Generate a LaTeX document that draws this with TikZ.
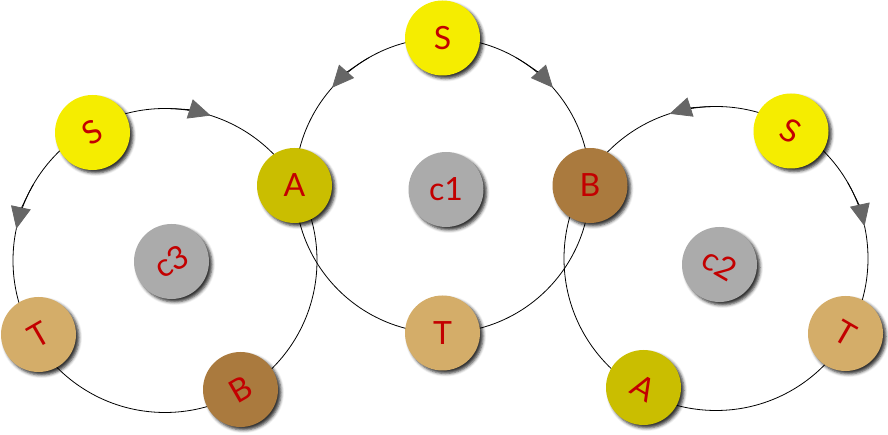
\documentclass[tikz,border=0pt]{standalone}
\usepackage{fontspec}
\setmainfont{Lato}
\usetikzlibrary{shadows.blur,arrows.meta}
\definecolor{sY}{RGB}{245,237,0}
\definecolor{aO}{RGB}{202,190,0}
\definecolor{bB}{RGB}{170,122,62}
\definecolor{tT}{RGB}{212,173,105}
\definecolor{cG}{RGB}{171,171,171}
\definecolor{txtR}{RGB}{195,0,0}
\definecolor{arrG}{RGB}{102,102,102}
\tikzset{
  ball/.style={circle, minimum size=75pt, inner sep=0pt, text=txtR,
    font=\fontsize{32}{32}\selectfont,
    blur shadow={shadow xshift=3pt, shadow yshift=-3pt, shadow blur radius=3pt, shadow opacity=80}},
  sball/.style={ball, fill=sY},
  aball/.style={ball, fill=aO},
  bball/.style={ball, fill=bB},
  tball/.style={ball, fill=tT},
  cball/.style={ball, fill=cG},
  ring/.style={draw=black, line width=0.8pt},
  flow/.style={draw=black, line width=0.8pt, -{Triangle[length=22pt,width=20pt,color=arrG,fill=arrG]}}
}
\begin{document}
\begin{tikzpicture}[x=1pt,y=1pt]
\useasboundingbox (0,0) rectangle (888,435);
% ring centres
\coordinate (o1) at (442.5,249.5);
\coordinate (o3) at (165,174.5);
\coordinate (o2) at (716,176.5);
% rings
\draw[ring] (o1) circle[radius=147.5];
\draw[ring] (o3) circle[radius=152];
\draw[ring] (o2) circle[radius=152];
% direction marks
\draw[flow] ([shift={(120:147.5)}]o1) arc[start angle=120, end angle=138.5, radius=147.5];
\draw[flow] ([shift={(60:147.5)}]o1) arc[start angle=60, end angle=41.5, radius=147.5];
\draw[flow] ([shift={(90:152)}]o3) arc[start angle=90, end angle=72.5, radius=152];
\draw[flow] ([shift={(150:152)}]o3) arc[start angle=150, end angle=168, radius=152];
\draw[flow] ([shift={(90:152)}]o2) arc[start angle=90, end angle=107.8, radius=152];
\draw[flow] ([shift={(30:152)}]o2) arc[start angle=30, end angle=12.3, radius=152];
% central ring
\node[sball] (S1) at (442.5,397) {S};
\node[aball] (A) at (294.5,249.5) {A};
\node[bball] (B) at (590,249.5) {B};
\node[tball] (T1) at (442.5,102) {T};
\node[cball] (c1) at (446,245.5) {c1};
% left ring
\node[sball] (S3) at (92.5,302.5) {\rotatebox{30}{S}};
\node[tball] (T3) at (38.5,100.5) {\rotatebox{30}{T}};
\node[bball] (B3) at (240.5,45.5) {\rotatebox{30}{B}};
\node[cball] (c3) at (171.5,173.5) {\rotatebox{30}{c3}};
% right ring
\node[sball] (S2) at (791,304) {\rotatebox{-30}{S}};
\node[tball] (T2) at (845.5,101.5) {\rotatebox{-30}{T}};
\node[aball] (A2) at (643.5,47.5) {\rotatebox{-30}{A}};
\node[cball] (c2) at (719.5,170.5) {\rotatebox{-30}{c2}};
\end{tikzpicture}
\end{document}
